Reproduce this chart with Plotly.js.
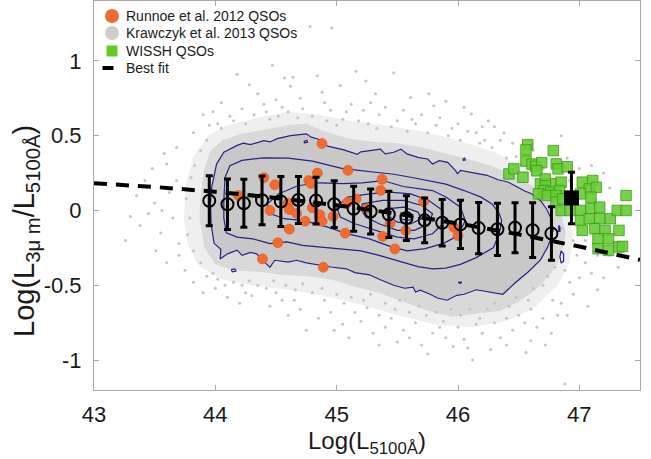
<!DOCTYPE html>
<html>
<head>
<meta charset="utf-8">
<script src="https://cdn.plot.ly/plotly-3.0.1.min.js"></script>
<style>
  html, body { margin: 0; padding: 0; background: #fff; }
  #chart { width: 651px; height: 459px; }
</style>
</head>
<body>
<div id="chart"></div>
<script>
// Binned means of the Krawczyk et al. 2013 sample (open circles with 1-sigma bars)
const binX = [43.95, 44.10, 44.235, 44.385, 44.54, 44.685, 44.83, 44.98, 45.14, 45.28,
              45.43, 45.575, 45.725, 45.87, 46.02, 46.17, 46.325, 46.47, 46.615, 46.77];
const binY = [0.065, 0.042, 0.048, 0.068, 0.060, 0.070, 0.066, 0.042, 0.011, -0.007,
              -0.026, -0.051, -0.066, -0.082, -0.093, -0.118, -0.126, -0.116, -0.132, -0.154];
const binErr = [0.167, 0.169, 0.161, 0.163, 0.167, 0.157, 0.156, 0.156, 0.150, 0.150,
                0.155, 0.150, 0.150, 0.155, 0.161, 0.172, 0.175, 0.167, 0.183, 0.178];

// WISSH average (filled black square)
const wisshMeanX = [46.935];
const wisshMeanY = [0.084];
const wisshMeanErr = [0.172];

// Best-fit relation
const fitX = [43.0, 43.5, 44.0, 44.5, 45.0, 45.5, 46.0, 46.5, 47.0, 47.5];
const fitY = [0.182, 0.157, 0.125, 0.084, 0.035, -0.022, -0.087, -0.160, -0.241, -0.330];

// Runnoe et al. 2012 QSOs
const runnoe = [
  [44.879, 0.447], [45.093, 0.268], [44.841, 0.250], [44.770, 0.200], [44.790, 0.180],
  [44.400, 0.219], [44.490, 0.172], [45.374, 0.208], [45.363, 0.134], [44.190, 0.100],
  [44.600, 0.049], [44.450, 0.000], [44.610, 0.006], [44.670, -0.020], [44.800, 0.018],
  [44.860, -0.028], [44.880, -0.072], [44.740, -0.072], [44.970, -0.040], [44.610, -0.125],
  [45.070, -0.152], [45.160, 0.076], [45.090, 0.053], [45.245, 0.011], [45.440, -0.085],
  [45.570, -0.134], [45.380, -0.174], [45.480, -0.257], [45.716, 0.060], [44.515, -0.215],
  [44.388, -0.324], [44.890, -0.380], [45.965, -0.112], [46.000, -0.168]
];

// WISSH QSOs
const wissh = [
  [46.575, 0.440], [46.560, 0.405], [46.785, 0.400], [46.560, 0.330], [46.610, 0.310],
  [46.640, 0.295], [46.690, 0.320], [46.650, 0.265], [46.810, 0.311], [46.825, 0.278],
  [46.900, 0.292], [46.420, 0.244], [46.460, 0.278], [46.535, 0.222], [46.680, 0.178],
  [46.765, 0.178], [46.850, 0.189], [46.720, 0.210], [46.720, 0.165], [46.707, 0.133],
  [46.765, 0.122], [46.837, 0.133], [46.663, 0.111], [46.736, 0.100], [46.808, 0.100],
  [46.808, 0.055], [46.865, 0.078], [47.024, 0.189], [47.110, 0.200], [47.082, 0.144],
  [47.140, 0.155], [47.010, 0.111], [47.096, 0.089], [46.851, 0.000], [46.923, 0.000],
  [47.010, 0.000], [47.096, 0.011], [47.168, 0.022], [47.010, -0.067], [47.082, -0.055],
  [47.168, -0.055], [47.255, -0.055], [47.125, -0.122], [47.212, -0.133], [47.327, -0.133],
  [47.385, 0.100], [47.313, 0.000], [47.385, 0.000], [47.024, -0.133], [47.154, -0.189],
  [47.240, -0.189], [47.154, -0.255], [47.240, -0.267], [47.327, -0.244], [47.356, -0.240]
];

// Krawczyk et al. 2013 QSOs: individual objects outside the crowded core
const krawczykSparse = [
  [44.78, 1.23], [44.96, 1.22], [44.18, 0.91], [44.47, 0.97], [44.57, 0.885], [44.64, 0.89],
  [44.62, 0.83], [45.16, 0.93], [45.47, 0.92], [45.24, 0.865], [45.03, 0.835], [45.61, 0.755],
  [45.76, 0.78], [45.90, 0.73], [46.05, 0.69], [46.11, 0.645], [46.25, 0.60], [44.35, 0.78],
  [44.05, 0.72], [43.90, 0.64], [44.22, 0.68], [44.50, 0.74], [44.88, 0.79], [45.32, 0.78],
  [45.55, 0.67], [45.12, 0.71], [44.95, 0.67], [44.70, 0.75], [44.42, 0.66], [44.02, 0.58],
  [43.82, 0.52], [45.85, 0.62], [46.00, 0.58], [46.38, 0.52], [46.30, 0.56], [45.70, 0.64],
  [45.40, 0.69], [44.28, 0.84], [44.84, 0.90], [45.35, 0.64], [46.15, 0.52], [46.45, 0.45],
  [44.12, 0.63], [43.95, 0.57], [44.60, 0.66], [45.22, 0.67], [45.05, 0.61], [44.80, 0.63],
  [45.50, 0.60], [46.22, 0.47], [46.55, 0.38], [45.95, 0.55], [45.65, 0.58], [44.40, 0.71],
  [45.80, 0.70], [46.20, 0.56], [44.90, 0.72], [45.28, 0.72], [44.55, 0.69], [43.98, 0.66],
  [43.60, 0.31], [43.58, 0.38], [43.68, 0.20], [43.62, 0.12], [43.50, 0.05], [43.30, -0.04],
  [43.26, -0.20], [43.42, 0.20], [43.38, -0.10], [43.55, -0.15], [43.51, -0.27], [43.65, -0.05],
  [43.70, -0.22], [43.60, -0.35], [43.75, -0.40], [43.82, -0.48], [43.45, -0.02], [43.68, 0.42],
  [43.48, 0.28], [43.35, 0.10], [43.70, -0.30], [43.56, 0.00],
  [43.90, -0.55], [44.00, -0.52], [44.10, -0.58], [44.20, -0.62], [44.30, -0.57], [44.45, -0.64],
  [44.55, -0.60], [44.60, -0.70], [44.70, -0.66], [44.85, -0.72], [44.75, -0.80], [44.95, -0.68],
  [45.05, -0.76], [45.10, -0.85], [45.20, -0.74], [45.30, -0.82], [45.40, -0.78], [45.50, -0.88],
  [45.45, -0.72], [45.60, -0.85], [45.70, -0.90], [45.79, -0.82], [45.96, -0.91], [46.12, -1.00],
  [46.27, -0.93], [46.05, -0.86], [46.20, -0.82], [46.35, -0.85], [46.45, -0.80], [46.60, -0.87],
  [46.77, -0.82], [46.70, -0.72], [46.88, -1.16], [46.90, -0.70], [47.07, -0.64], [47.15, -0.53],
  [47.00, -0.45], [46.95, -0.56], [46.85, -0.62], [47.05, -0.35], [47.10, -0.42], [46.98, -0.30],
  [47.20, -0.45], [46.55, -0.75], [46.40, -0.72], [45.85, -0.78], [45.25, -0.65], [44.90, -0.60],
  [44.35, -0.50], [44.15, -0.48], [43.98, -0.42], [45.55, -0.80], [45.90, -0.85], [46.00, -0.78],
  [46.15, -0.76], [46.30, -0.75], [46.50, -0.70], [46.65, -0.78], [45.65, -0.75], [45.35, -0.70],
  [45.15, -0.68], [44.65, -0.60], [44.50, -0.55], [45.75, -0.96], [46.08, -0.92], [46.40, -0.90],
  [45.35, -0.90], [44.98, -0.80], [46.82, -0.70], [46.72, -0.90], [44.25, -0.55], [46.56, -0.95],
  [46.70, 0.28], [46.90, 0.35], [47.00, 0.28], [47.10, 0.30], [47.20, 0.25], [46.95, -0.20],
  [47.25, -0.30], [47.32, -0.38], [46.92, 0.20], [47.25, 0.15], [46.62, 0.40], [46.40, 0.35],
  [46.85, 0.50], [47.05, -0.20], [47.15, -0.30]
];
// Krawczyk et al. 2013 QSOs lying along the edge of the crowded core
const krawczykEdge = [
  [44.05, 0.55], [44.15, 0.60], [44.25, 0.58], [44.32, 0.64], [44.45, 0.61], [44.52, 0.63],
  [44.68, 0.62], [44.72, 0.68], [44.92, 0.60], [45.00, 0.57], [45.08, 0.66], [45.18, 0.60],
  [45.26, 0.58], [45.33, 0.55], [45.45, 0.56], [45.58, 0.53], [45.62, 0.61], [45.75, 0.52],
  [45.82, 0.57], [45.92, 0.50], [46.02, 0.47], [46.08, 0.53], [46.18, 0.45], [46.28, 0.42],
  [46.35, 0.47], [46.48, 0.36], [46.52, 0.31], [46.60, 0.28], [43.93, 0.47], [43.88, 0.40],
  [43.83, 0.30], [43.80, 0.22], [43.76, 0.08], [43.79, -0.05], [43.77, -0.16], [43.82, -0.27],
  [43.88, -0.35], [43.93, -0.44], [44.02, -0.46], [44.08, -0.50], [44.22, -0.50], [44.28, -0.47],
  [44.42, -0.52], [44.48, -0.47], [44.58, -0.50], [44.66, -0.53], [44.72, -0.49], [44.80, -0.55],
  [44.88, -0.52], [45.00, -0.56], [45.06, -0.62], [45.12, -0.58], [45.22, -0.60], [45.28, -0.56],
  [45.40, -0.62], [45.48, -0.66], [45.52, -0.60], [45.60, -0.68], [45.68, -0.64], [45.74, -0.70],
  [45.82, -0.68], [45.88, -0.74], [45.94, -0.66], [46.02, -0.70], [46.10, -0.66], [46.18, -0.72],
  [46.24, -0.66], [46.30, -0.62], [46.42, -0.64], [46.48, -0.58], [46.58, -0.60], [46.62, -0.52],
  [46.70, -0.50], [46.74, -0.44], [46.80, -0.38], [46.83, -0.22], [46.86, -0.12], [46.88, -0.40],
  [46.92, -0.48], [46.78, -0.60], [46.60, -0.66]
];

// Outlines of the crowded part of the Krawczyk cloud (outer sparse halo, inner dense halo)
const haloOuter = [
  [43.74, -0.05], [43.76, 0.18], [43.82, 0.36], [43.94, 0.50], [44.10, 0.57], [44.35, 0.62],
  [44.60, 0.66], [44.85, 0.64], [45.10, 0.60], [45.40, 0.57], [45.70, 0.53], [46.00, 0.47],
  [46.30, 0.39], [46.55, 0.29], [46.75, 0.17], [46.88, 0.03], [46.95, -0.15], [46.92, -0.35],
  [46.82, -0.50], [46.63, -0.65], [46.40, -0.74], [46.10, -0.78], [45.80, -0.76], [45.50, -0.70],
  [45.20, -0.63], [44.90, -0.57], [44.60, -0.53], [44.30, -0.50], [44.05, -0.46], [43.86, -0.37],
  [43.77, -0.22]
];
const haloInner = [
  [43.87, -0.05], [43.88, 0.12], [43.91, 0.28], [43.96, 0.40], [44.06, 0.47], [44.20, 0.51],
  [44.40, 0.54], [44.60, 0.57], [44.75, 0.58], [44.90, 0.53], [45.10, 0.48], [45.30, 0.46],
  [45.50, 0.45], [45.70, 0.42], [45.90, 0.38], [46.10, 0.34], [46.30, 0.29], [46.45, 0.24],
  [46.60, 0.17], [46.75, 0.08], [46.85, -0.02], [46.89, -0.15], [46.85, -0.30], [46.77, -0.42],
  [46.64, -0.53], [46.50, -0.61], [46.35, -0.67], [46.15, -0.69], [45.95, -0.71], [45.75, -0.67],
  [45.55, -0.61], [45.35, -0.55], [45.15, -0.51], [44.95, -0.46], [44.75, -0.44], [44.55, -0.43],
  [44.35, -0.41], [44.15, -0.40], [44.00, -0.36], [43.91, -0.25]
];

// Density contours of the Krawczyk sample, outermost first
const contour1 = [
  [43.99, -0.22], [43.965, -0.09], [43.96, 0.05], [43.97, 0.155], [44.01, 0.31], [44.07, 0.39],
  [44.18, 0.435], [44.23, 0.45], [44.29, 0.44], [44.40, 0.467], [44.45, 0.458], [44.51, 0.48],
  [44.62, 0.50], [44.75, 0.512], [44.79, 0.49], [44.845, 0.478], [44.925, 0.43], [44.99, 0.42],
  [45.06, 0.405], [45.17, 0.375], [45.20, 0.392], [45.36, 0.41], [45.40, 0.378], [45.47, 0.389],
  [45.53, 0.41], [45.58, 0.378], [45.67, 0.355], [45.75, 0.344], [45.79, 0.311], [45.845, 0.333],
  [45.915, 0.322], [45.98, 0.267], [45.995, 0.245], [46.02, 0.267], [46.105, 0.255], [46.16, 0.25],
  [46.24, 0.235], [46.33, 0.205], [46.41, 0.19], [46.47, 0.165], [46.55, 0.13], [46.61, 0.11],
  [46.68, 0.065], [46.73, 0.01], [46.77, -0.06], [46.785, -0.13], [46.76, -0.20], [46.735, -0.25],
  [46.68, -0.33], [46.58, -0.41], [46.47, -0.485], [46.37, -0.56], [46.25, -0.545], [46.15, -0.53],
  [46.05, -0.56], [45.99, -0.567], [45.91, -0.60], [45.83, -0.585], [45.77, -0.56], [45.69, -0.533],
  [45.65, -0.545], [45.63, -0.512], [45.56, -0.52], [45.47, -0.50], [45.35, -0.46], [45.27, -0.43],
  [45.15, -0.415], [45.08, -0.39], [44.95, -0.378], [44.86, -0.367], [44.75, -0.35], [44.67, -0.333],
  [44.60, -0.345], [44.49, -0.333], [44.45, -0.38], [44.40, -0.34], [44.34, -0.29], [44.29, -0.28],
  [44.22, -0.30], [44.18, -0.265], [44.10, -0.29], [44.04, -0.325], [44.045, -0.26]
];
const contour2 = [
  [44.08, 0.22], [44.12, 0.30], [44.22, 0.335], [44.40, 0.352], [44.60, 0.35], [44.80, 0.33],
  [45.05, 0.28], [45.30, 0.255], [45.47, 0.242], [45.61, 0.222], [45.76, 0.20], [45.90, 0.176],
  [46.05, 0.133], [46.19, 0.089], [46.28, 0.044], [46.34, -0.02], [46.36, -0.07], [46.34, -0.155],
  [46.29, -0.25], [46.15, -0.315], [46.02, -0.36], [45.90, -0.385], [45.79, -0.39], [45.67, -0.375],
  [45.52, -0.34], [45.35, -0.30], [45.20, -0.27], [45.00, -0.255], [44.86, -0.245], [44.72, -0.233],
  [44.59, -0.21], [44.45, -0.222], [44.31, -0.19], [44.18, -0.178], [44.09, -0.15], [44.07, -0.05],
  [44.07, 0.07]
];
const contour3 = [
  [44.52, 0.11], [44.68, 0.165], [44.86, 0.185], [45.05, 0.18], [45.21, 0.185], [45.38, 0.20],
  [45.55, 0.16], [45.79, 0.133], [45.90, 0.09], [46.02, 0.022], [46.06, -0.067], [46.00, -0.17],
  [45.88, -0.22], [45.73, -0.255], [45.58, -0.27], [45.44, -0.24], [45.27, -0.19], [45.09, -0.156],
  [44.92, -0.11], [44.74, -0.07], [44.57, -0.055], [44.45, -0.02], [44.43, 0.044]
];
const contour4 = [
  [45.00, 0.022], [45.09, 0.089], [45.27, 0.111], [45.44, 0.122], [45.61, 0.111], [45.76, 0.067],
  [45.875, 0.0], [45.875, -0.089], [45.79, -0.156], [45.64, -0.19], [45.50, -0.178], [45.32, -0.133],
  [45.15, -0.089], [45.03, -0.044]
];
const contour5 = [
  [45.21, 0.044], [45.38, 0.067], [45.555, 0.067], [45.70, 0.033], [45.79, -0.022], [45.76, -0.089],
  [45.64, -0.133], [45.50, -0.133], [45.35, -0.089], [45.24, -0.044], [45.205, 0.0]
];
const contour6 = [
  [45.41, 0.011], [45.555, 0.022], [45.67, -0.011], [45.70, -0.056], [45.61, -0.089], [45.50, -0.078],
  [45.42, -0.033]
];
const contour7 = [[45.52, -0.03], [45.58, -0.02], [45.63, -0.04], [45.60, -0.065], [45.54, -0.06]];
const contourIslands = [
  [[44.13, -0.395], [44.16, -0.39], [44.17, -0.405], [44.14, -0.41]],
  [[44.73, 0.462], [44.755, 0.468], [44.76, 0.456], [44.735, 0.452]],
  [[46.04, 0.344], [46.055, 0.35], [46.06, 0.338], [46.045, 0.334]],
  [[46.85, -0.27], [46.87, -0.29], [46.87, -0.34], [46.85, -0.35], [46.84, -0.31]],
  [[46.00, -0.48], [46.03, -0.478], [46.02, -0.488]],
  [[46.83, -0.10], [46.84, -0.11], [46.84, -0.14], [46.83, -0.14]]
];

const xTicks = [43, 44, 45, 46, 47];
const yTicks = [-1, -0.5, 0, 0.5, 1];
const yTickText = ['-1', '-0.5', '0', '0.5', '1'];

const legendLabels = ['Runnoe et al. 2012 QSOs', 'Krawczyk et al. 2013 QSOs', 'WISSH QSOs', 'Best fit'];

// ---------------------------------------------------------------------------
const FONT = 'Liberation Sans, Arial, Helvetica, sans-serif';
const NAVY = '#24248a';
const GREY = '#c8c8c8';

const xs = pts => pts.map(p => p[0]);
const ys = pts => pts.map(p => p[1]);
const closed = pts => pts.concat([pts[0]]);

function region(pts, color) {
  const c = closed(pts);
  return {
    type: 'scatter', mode: 'lines', x: xs(c), y: ys(c),
    fill: 'toself', fillcolor: color, line: { width: 0 }, hoverinfo: 'skip', showlegend: false
  };
}
function contourLine(pts) {
  const c = closed(pts);
  return {
    type: 'scatter', mode: 'lines', x: xs(c), y: ys(c),
    line: { color: NAVY, width: 1.2 }, hoverinfo: 'skip', showlegend: false
  };
}
function dots(pts) {
  return {
    type: 'scatter', mode: 'markers', x: xs(pts), y: ys(pts),
    marker: { color: '#c4c4c4', size: 3 }, hoverinfo: 'skip', showlegend: false
  };
}

const traces = [];
traces.push(region(haloOuter, '#efefef'));
traces.push(region(haloInner, '#d9d9d9'));
traces.push(region(contour1, GREY));
traces.push(dots(krawczykSparse));
traces.push(dots(krawczykEdge));
[contour1, contour2, contour3, contour4, contour5, contour6, contour7]
  .concat(contourIslands).forEach(c => traces.push(contourLine(c)));

traces.push({
  type: 'scatter', mode: 'markers', x: xs(runnoe), y: ys(runnoe),
  marker: { color: '#f36a2d', size: 10, line: { color: '#e0561c', width: 0.6 } },
  showlegend: false
});
traces.push({
  type: 'scatter', mode: 'markers', x: xs(wissh), y: ys(wissh),
  marker: { symbol: 'square', color: 'rgba(104,204,52,0.9)', size: 10.5,
            line: { color: '#3f9a1c', width: 0.8 } },
  showlegend: false
});
traces.push({
  type: 'scatter', mode: 'lines', x: fitX, y: fitY,
  line: { color: '#000', width: 4, dash: '13px,9px' }, showlegend: false
});
traces.push({
  type: 'scatter', mode: 'markers', x: binX, y: binY,
  error_y: { type: 'data', array: binErr, color: '#000', thickness: 3, width: 3.5 },
  marker: { symbol: 'circle-open', color: '#000', size: 12, line: { color: '#000', width: 2 } },
  showlegend: false
});
traces.push({
  type: 'scatter', mode: 'markers', x: wisshMeanX, y: wisshMeanY,
  error_y: { type: 'data', array: wisshMeanErr, color: '#000', thickness: 3, width: 3.5 },
  marker: { symbol: 'square', color: '#000', size: 15 },
  showlegend: false
});

// plot area in pixels
const L = 94, R = 640, T = 1, B = 390;
const px = v => (v - L) / (R - L);
const py = v => (B - v) / (B - T);

const legendRows = [16, 33, 51, 68];
const shapes = [
  { type: 'circle', xref: 'paper', yref: 'paper', xsizemode: 'pixel', ysizemode: 'pixel',
    xanchor: px(112), yanchor: py(legendRows[0]), x0: -7, x1: 7, y0: -7, y1: 7,
    fillcolor: '#f36a2d', line: { width: 0 } },
  { type: 'circle', xref: 'paper', yref: 'paper', xsizemode: 'pixel', ysizemode: 'pixel',
    xanchor: px(112), yanchor: py(legendRows[1]), x0: -7, x1: 7, y0: -7, y1: 7,
    fillcolor: '#cdcdcd', line: { width: 0 } },
  { type: 'rect', xref: 'paper', yref: 'paper', xsizemode: 'pixel', ysizemode: 'pixel',
    xanchor: px(112), yanchor: py(legendRows[2]), x0: -5.5, x1: 5.5, y0: -5.5, y1: 5.5,
    fillcolor: '#5fcc25', line: { width: 0 } },
  { type: 'line', xref: 'paper', yref: 'paper', xsizemode: 'pixel', ysizemode: 'pixel',
    xanchor: px(108), yanchor: py(legendRows[3]), x0: -5.5, x1: 5.5, y0: 0, y1: 0,
    line: { color: '#000', width: 4 } }
];

const annotations = legendLabels.map((t, i) => ({
  xref: 'paper', yref: 'paper', x: px(124), y: py(legendRows[i]),
  xanchor: 'left', yanchor: 'middle', text: t, showarrow: false,
  font: { family: FONT, size: 14, color: '#1a1a1a' }
}));
annotations.push({
  xref: 'paper', yref: 'paper', x: px(367), y: py(442), xanchor: 'center', yanchor: 'middle',
  text: 'Log(L<sub>5100Å</sub>)', showarrow: false,
  font: { family: FONT, size: 24, color: '#1a1a1a' }
});
annotations.push({
  xref: 'paper', yref: 'paper', x: px(26), y: py(231), xanchor: 'center', yanchor: 'middle',
  textangle: -90, text: 'Log(L<sub>3μ m</sub>/L<sub>5100Å</sub>)', showarrow: false,
  font: { family: FONT, size: 29, color: '#1a1a1a' }
});

const axisCommon = {
  showgrid: false, zeroline: false, showline: true, linecolor: '#a8a8a8', linewidth: 1,
  mirror: 'ticks', ticks: 'inside', ticklen: 5, tickcolor: '#a8a8a8', tickwidth: 1,
  tickfont: { family: FONT, size: 22, color: '#1a1a1a' }
};

const layout = {
  width: 651, height: 459,
  margin: { l: L, r: 651 - R, t: T, b: 459 - B, pad: 0 },
  paper_bgcolor: '#fff', plot_bgcolor: '#fff',
  showlegend: false,
  xaxis: Object.assign({}, axisCommon, {
    range: [43, 47.5], tickmode: 'array', tickvals: xTicks, ticktext: xTicks.map(String),
    ticklabelstandoff: 5
  }),
  yaxis: Object.assign({}, axisCommon, {
    range: [-1.2, 1.4], tickmode: 'array', tickvals: yTicks, ticktext: yTickText,
    ticklabelstandoff: 7
  }),
  shapes: shapes,
  annotations: annotations
};

Plotly.newPlot('chart', traces, layout, { staticPlot: true, displayModeBar: false });
</script>
</body>
</html>
